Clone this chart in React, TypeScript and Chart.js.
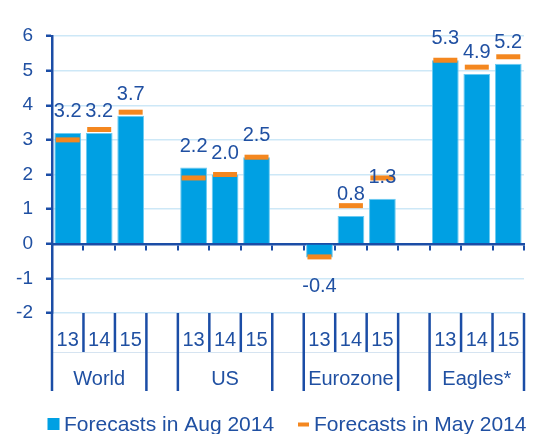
import { useEffect, useRef } from 'react';
import { Chart, registerables } from 'chart.js';

Chart.register(...registerables);

// ---- data ----
const categories = ['13', '14', '15', '', '13', '14', '15', '', '13', '14', '15', '', '13', '14', '15'];
const groupNames = ['World', 'US', 'Eurozone', 'Eagles*'];
const groupStarts = [0, 4, 8, 12];
const groupSize = 3;
const augForecasts = [3.2, 3.2, 3.7, null, 2.2, 2.0, 2.5, null, -0.4, 0.8, 1.3, null, 5.3, 4.9, 5.2];
const mayForecasts = [3.0, 3.3, 3.8, null, 1.9, 2.0, 2.5, null, -0.38, 1.1, 1.9, null, 5.3, 5.1, 5.4];
const augLabels = ['3.2', '3.2', '3.7', null, '2.2', '2.0', '2.5', null, '-0.4', '0.8', '1.3', null, '5.3', '4.9', '5.2'];
const legendLabels = ['Forecasts in Aug 2014', 'Forecasts in May 2014'];
const yMin = -2;
const yMax = 6;

// ---- style ----
const FONT = '"Liberation Sans", Arial, sans-serif';
const TEXT = '#2050A2';
const AXIS = '#1B4DA6';
const GRID = '#CDE8F7';
const BLUE = '#00A0E3';
const BLUE_EDGE = '#6CCBF2';
const ORANGE = '#F4871F';

const decorPlugin = {
  id: 'decor',
  afterDatasetsDraw(chart: any) {
    const ctx = chart.ctx;
    const meta = chart.getDatasetMeta(1);
    ctx.save();
    ctx.fillStyle = TEXT;
    ctx.font = `20px ${FONT}`;
    ctx.textAlign = 'center';
    ctx.textBaseline = 'alphabetic';
    meta.data.forEach((el: any, i: number) => {
      const lab = augLabels[i];
      const v = augForecasts[i];
      if (lab == null || v == null) return;
      const y = v >= 0 ? el.y - 16 : el.y + 34;
      ctx.fillText(lab, el.x, y);
    });
    ctx.restore();
  },
  afterDraw(chart: any) {
    const ctx = chart.ctx;
    const x = chart.scales.x;
    const area = chart.chartArea;
    const half = (x.getPixelForValue(1) - x.getPixelForValue(0)) / 2;
    const b = area.bottom;
    ctx.save();
    // faint line between rows
    ctx.strokeStyle = '#D6E4F1';
    ctx.lineWidth = 1;
    ctx.beginPath();
    ctx.moveTo(area.left, b + 39.5);
    ctx.lineTo(area.right, b + 39.5);
    ctx.stroke();

    ctx.strokeStyle = AXIS;
    ctx.lineWidth = 2.5;
    groupStarts.forEach((s) => {
      for (let k = 0; k <= groupSize; k++) {
        const px = x.getPixelForValue(s + k) - half;
        const outer = k === 0 || k === groupSize;
        ctx.beginPath();
        ctx.moveTo(px, b);
        ctx.lineTo(px, b + (outer ? 78 : 39));
        ctx.stroke();
      }
    });

    ctx.fillStyle = TEXT;
    ctx.textAlign = 'center';
    ctx.textBaseline = 'alphabetic';
    ctx.font = `20px ${FONT}`;
    categories.forEach((c, i) => {
      if (!c) return;
      ctx.fillText(c, x.getPixelForValue(i), b + 33);
    });
    groupStarts.forEach((s, gi) => {
      const cx = (x.getPixelForValue(s) + x.getPixelForValue(s + groupSize - 1)) / 2;
      ctx.fillText(groupNames[gi], cx, b + 72);
    });

    // legend
    ctx.font = `21px ${FONT}`;
    ctx.textAlign = 'left';
    const ly = 431;
    ctx.fillStyle = BLUE;
    ctx.fillRect(47.5, 418, 12, 12);
    ctx.fillStyle = TEXT;
    ctx.fillText(legendLabels[0], 64, ly);
    ctx.fillStyle = ORANGE;
    ctx.fillRect(298, 422.5, 11, 4);
    ctx.fillStyle = TEXT;
    ctx.fillText(legendLabels[1], 314, ly);
    ctx.restore();
  },
};

export default function App() {
  const ref = useRef<HTMLCanvasElement>(null);
  useEffect(() => {
    if (!ref.current) return;
    const chart = new Chart(ref.current, {
      type: 'bar',
      data: {
        labels: categories,
        datasets: [
          {
            type: 'line',
            label: legendLabels[1],
            data: mayForecasts as any,
            showLine: false,
            pointStyle: 'line',
            pointRadius: 12,
            pointHoverRadius: 12,
            pointBorderWidth: 5,
            pointHoverBorderWidth: 5,
            pointBorderColor: ORANGE,
            pointBackgroundColor: ORANGE,
            borderColor: ORANGE,
            order: 1,
          } as any,
          {
            type: 'bar',
            label: legendLabels[0],
            data: augForecasts as any,
            backgroundColor: BLUE,
            borderColor: BLUE_EDGE,
            borderWidth: 1,
            barPercentage: 0.85,
            categoryPercentage: 1,
            order: 2,
          } as any,
        ],
      },
      options: {
        responsive: false,
        animation: false,
        layout: { padding: { left: 0, right: 7, top: 36, bottom: 121 } },
        plugins: { legend: { display: false }, tooltip: { enabled: false } },
        events: [],
        scales: {
          x: {
            type: 'category',
            position: { y: 0 } as any,
            offset: true,
            grid: {
              offset: true,
              drawOnChartArea: false,
              drawTicks: true,
              tickLength: 5,
              color: AXIS,
              lineWidth: 2,
            },
            border: { display: true, color: AXIS, width: 2.5 },
            ticks: { display: false },
          },
          y: {
            min: yMin,
            max: yMax,
            afterFit: (s: any) => {
              s.width = 52;
            },
            ticks: {
              stepSize: 1,
              color: TEXT,
              padding: 13,
              font: { family: FONT, size: 19 },
            },
            grid: {
              color: GRID,
              lineWidth: 1.5,
              tickColor: AXIS,
              tickWidth: 2.5,
              tickLength: 6,
              drawTicks: true,
            },
            border: { display: true, color: AXIS, width: 2.5 },
          },
        },
      },
      plugins: [decorPlugin],
    });
    return () => chart.destroy();
  }, []);
  return (
    <div style={{ position: 'fixed', left: 0, top: 0, width: 541, height: 434, background: '#fff' }}>
      <canvas ref={ref} width={541} height={434} style={{ display: 'block', width: 541, height: 434 }} />
    </div>
  );
}
